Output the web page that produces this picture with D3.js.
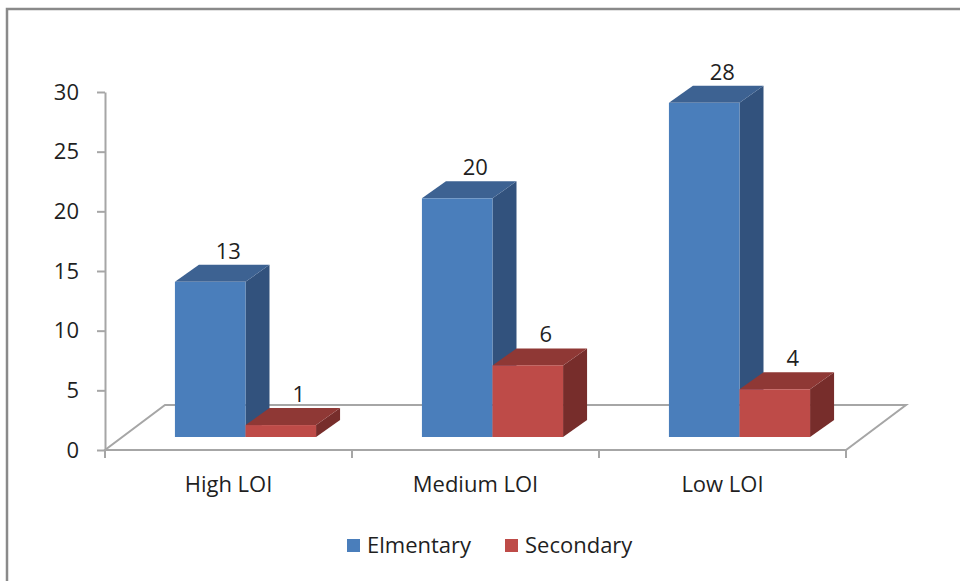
<!DOCTYPE html>
<html>
<head>
<meta charset="utf-8">
<script src="https://cdn.jsdelivr.net/npm/d3@7"></script>
<style>
  body { margin: 0; background: #fff; }
  text { font-family: "Open Sans", sans-serif; fill: #1f1f1f; }
</style>
</head>
<body>
<div id="chart"></div>
<script>
// data
const categories = ["High LOI", "Medium LOI", "Low LOI"];
const seriesNames = ["Elmentary", "Secondary"];
const elementary = [13, 20, 28];
const secondary = [1, 6, 4];
const yTicks = [0, 5, 10, 15, 20, 25, 30];

const W = 960, H = 581;
const fs = "22px";
const colors = {
  Elmentary: {front: "#4a7ebb", top: "#3d6292", side: "#32527d"},
  Secondary: {front: "#be4b48", top: "#8f3835", side: "#772d2b"}
};

const svg = d3.select("#chart").append("svg")
  .attr("width", W).attr("height", H);

// outer frame (runs off the right / bottom edge)
svg.append("rect")
  .attr("x", 7).attr("y", 9)
  .attr("width", 1000).attr("height", 1000)
  .attr("fill", "none")
  .attr("stroke", "#8a8a8a")
  .attr("stroke-width", 2.5);

const x = d3.scaleBand().domain(categories).range([105, 846]);
const xs = d3.scaleBand().domain(seriesNames).range([0, x.bandwidth()]).paddingOuter(0.75);
const y = d3.scaleLinear().domain([0, 30]).range([450, 92]);

// 3d offsets
const floorD = {dx: 60, dy: -45};
const barShift = {dx: 17, dy: -13};
const barD = {dx: 24, dy: -17};

// floor
const x0 = x.range()[0], x1 = x.range()[1], yb = y(0);
svg.append("path")
  .attr("d", `M${x0},${yb}L${x1},${yb}L${x1 + floorD.dx},${yb + floorD.dy}L${x0 + floorD.dx},${yb + floorD.dy}Z`)
  .attr("fill", "none")
  .attr("stroke", "#a6a6a6")
  .attr("stroke-width", 2);

// y axis
const yAxis = svg.append("g")
  .attr("transform", `translate(${x0},0)`)
  .call(d3.axisLeft(y).tickValues(yTicks).tickSize(8).tickSizeOuter(0).tickPadding(18));
yAxis.select(".domain").attr("stroke", "#a6a6a6").attr("stroke-width", 2);
yAxis.selectAll(".tick line").attr("stroke", "#a6a6a6").attr("stroke-width", 2);
yAxis.selectAll(".tick text")
  .style("font-family", "'Open Sans', sans-serif")
  .style("font-size", fs)
  .attr("fill", "#1f1f1f");

// category ticks at band edges
const edges = categories.map(d => x(d)).concat([x1]);
svg.append("g").selectAll("line")
  .data(edges)
  .join("line")
    .attr("x1", d => d).attr("x2", d => d)
    .attr("y1", yb).attr("y2", yb + 8)
    .attr("stroke", "#a6a6a6").attr("stroke-width", 2);

svg.append("g").selectAll("text")
  .data(categories)
  .join("text")
    .attr("x", d => x(d) + x.bandwidth() / 2)
    .attr("y", 492)
    .attr("text-anchor", "middle")
    .style("font-size", fs)
    .text(d => d);

// bars
const rows = [];
categories.forEach((c, i) => {
  rows.push({cat: c, s: "Elmentary", v: elementary[i]});
  rows.push({cat: c, s: "Secondary", v: secondary[i]});
});

const bars = svg.append("g").selectAll("g")
  .data(rows)
  .join("g");

function geom(d) {
  const l = x(d.cat) + xs(d.s) + barShift.dx;
  const r = l + xs.bandwidth();
  const b = y(0) + barShift.dy;
  const t = y(d.v) + barShift.dy;
  return {l, r, b, t};
}

bars.append("path")
  .attr("d", d => {
    const g = geom(d);
    return `M${g.r},${g.b}L${g.r + barD.dx},${g.b + barD.dy}L${g.r + barD.dx},${g.t + barD.dy}L${g.r},${g.t}Z`;
  })
  .attr("fill", d => colors[d.s].side);

bars.append("path")
  .attr("d", d => {
    const g = geom(d);
    return `M${g.l},${g.t}L${g.l + barD.dx},${g.t + barD.dy}L${g.r + barD.dx},${g.t + barD.dy}L${g.r},${g.t}Z`;
  })
  .attr("fill", d => colors[d.s].top);

bars.append("rect")
  .attr("x", d => geom(d).l)
  .attr("y", d => geom(d).t)
  .attr("width", xs.bandwidth())
  .attr("height", d => geom(d).b - geom(d).t)
  .attr("fill", d => colors[d.s].front);

bars.append("text")
  .attr("x", d => (geom(d).l + geom(d).r) / 2 + 18)
  .attr("y", d => geom(d).t + barD.dy - 6)
  .attr("text-anchor", "middle")
  .style("font-size", fs)
  .text(d => d.v);

// legend
const legendX = [347, 505];
const legend = svg.append("g").selectAll("g")
  .data(seriesNames)
  .join("g")
    .attr("transform", (d, i) => `translate(${legendX[i]},539)`);
legend.append("rect")
  .attr("width", 13).attr("height", 13)
  .attr("fill", d => colors[d].front);
legend.append("text")
  .attr("x", 20).attr("y", 14)
  .style("font-size", fs)
  .text(d => d);
</script>
</body>
</html>
